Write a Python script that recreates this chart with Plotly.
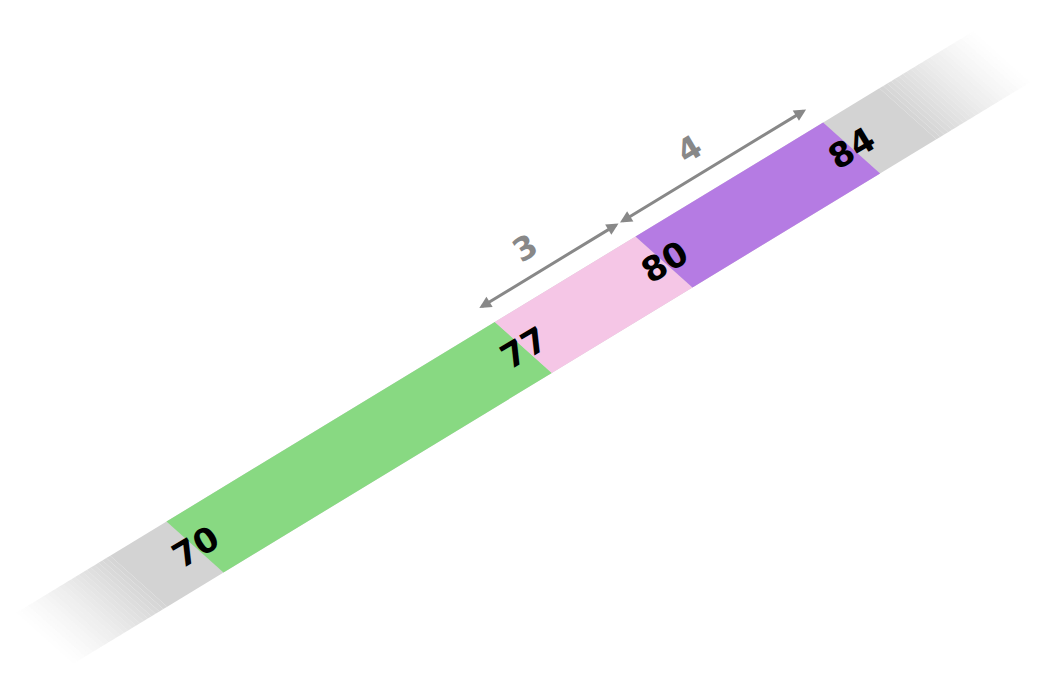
import plotly.graph_objects as go

# data
bounds = [70, 77, 80, 84]
seg_colors = ["#88d982", "#f5c6e6", "#b57be3"]
gaps = [3, 4]
track_start, track_end = 66.8, 87.2
fade = 2.0

# geometry (pixel space)
O = (187, 539)      # centre of boundary at 70
U = (46.9, -28.5)   # per unit along band
W = (57, 51)        # across band (full width)
OFF = (-17, -13)    # arrow offset from top edge
LOFF = (-23, -18)

def P(v, s=0.0):
    return (O[0] + (v - 70) * U[0] + s * W[0], O[1] + (v - 70) * U[1] + s * W[1])

def quad(a, b):
    pts = [P(a, -0.5), P(b, -0.5), P(b, 0.5), P(a, 0.5), P(a, -0.5)]
    return [p[0] for p in pts], [p[1] for p in pts]

fig = go.Figure()
def add(a, b, color, op=1.0):
    xs, ys = quad(a, b)
    fig.add_trace(go.Scatter(x=xs, y=ys, fill="toself", fillcolor=color, opacity=op,
                             line=dict(width=0), mode="lines", hoverinfo="skip", showlegend=False))

# gray track with fading ends
add(track_start + fade, track_end - fade, "#d3d3d3")
n = 24
for i in range(n):
    op = ((i + 1) / (n + 1)) ** 1.2
    a = track_start + fade * i / n
    add(a, a + fade / n, "#d3d3d3", op)
    b = track_end - fade * i / n
    add(b - fade / n, b, "#d3d3d3", op)

for a, b, c in zip(bounds[:-1], bounds[1:], seg_colors):
    add(a, b, c)

ann = []
for v in bounds:
    x, y = P(v)
    ann.append(dict(x=x, y=y, text=f"<b>{v}</b>", showarrow=False, textangle=-31,
                    font=dict(size=34, color="black", family="DejaVu Sans")))

for (a, b), g in zip([(77, 80), (80, 84)], gaps):
    p1 = P(a, -0.5); p2 = P(b, -0.5)
    p1 = (p1[0] + OFF[0], p1[1] + OFF[1]); p2 = (p2[0] + OFF[0], p2[1] + OFF[1])
    ann.append(dict(x=p2[0], y=p2[1], ax=p1[0], ay=p1[1], axref="x", ayref="y", xref="x", yref="y",
                    showarrow=True, arrowhead=2, startarrowhead=2, arrowside="end+start",
                    arrowwidth=3, arrowsize=0.8, startarrowsize=0.8, arrowcolor="#888888", text=""))
    mx, my = (p1[0] + p2[0]) / 2 + LOFF[0], (p1[1] + p2[1]) / 2 + LOFF[1]
    ann.append(dict(x=mx, y=my, text=f"<b>{g}</b>", showarrow=False, textangle=-31,
                    font=dict(size=32, color="#888888", family="DejaVu Sans")))

fig.update_layout(width=1042, height=676, margin=dict(l=0, r=0, t=0, b=0),
                  plot_bgcolor="white", paper_bgcolor="white", annotations=ann,
                  xaxis=dict(range=[0, 1042], visible=False),
                  yaxis=dict(range=[676, 0], visible=False))
fig.write_html("out.html")
